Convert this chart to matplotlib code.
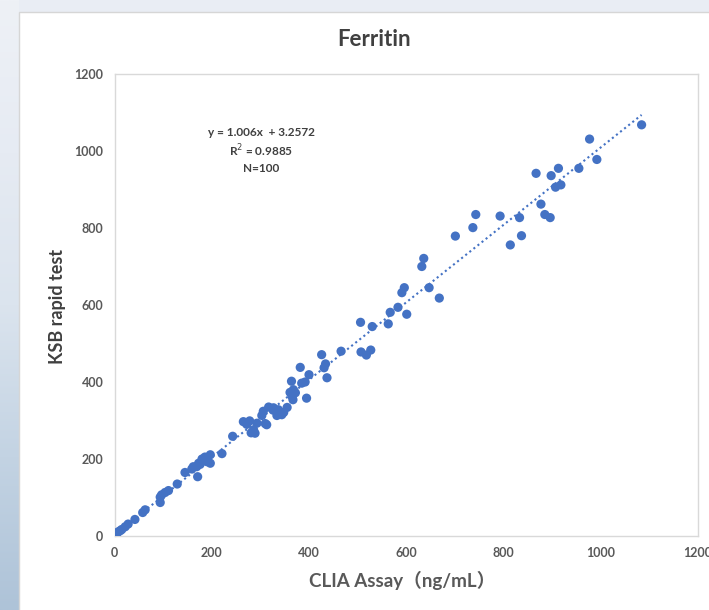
import numpy as np
import matplotlib
matplotlib.use("Agg")
import matplotlib.pyplot as plt
from matplotlib.patches import Rectangle

# ---- data ----
clia = [1, 3, 5, 8, 12, 15, 22, 28, 42, 58, 63, 94, 94, 97, 104, 111, 129, 145,
        159, 162, 169, 171, 173, 180, 186, 190, 197, 197, 221, 243,
        265, 278, 272, 286, 289, 281, 293, 310, 313,
        303, 306, 317, 327, 334, 337, 344, 348, 326,
        361, 364, 365, 367, 368, 372, 382, 385, 392, 395, 400,
        426, 431, 434, 437, 466,
        507, 518, 527, 506, 530, 563, 567, 583, 591, 596, 601,
        632, 636, 647, 668, 701, 737, 743,
        793, 814, 833, 837, 867, 877, 885, 896, 898, 907, 913, 918, 955, 977, 992, 1084,
        176, 355]
ksb = [3, 5, 8, 11, 14, 17, 24, 31, 43, 61, 68, 87, 101, 107, 113, 118, 135, 165,
       174, 180, 180, 154, 189, 200, 205, 193, 189, 211, 214, 259,
       297, 299, 290, 276, 267, 268, 293, 292, 289,
       313, 324, 335, 333, 313, 328, 315, 321, 327,
       373, 402, 363, 354, 380, 372, 438, 397, 400, 358, 419,
       471, 437, 447, 411, 480,
       478, 470, 483, 555, 544, 551, 581, 594, 632, 645, 576,
       700, 721, 645, 618, 779, 801, 835,
       831, 756, 827, 780, 942, 862, 835, 827, 936, 906, 955, 912, 955, 1031, 978, 1068,
       186, 334]

slope = 1.006
intercept = 3.2572
x_ticks = [0, 200, 400, 600, 800, 1000, 1200]
y_ticks = [0, 200, 400, 600, 800, 1000, 1200]

title = "Ferritin"
xlabel = "CLIA Assay（ng/mL）"
ylabel = "KSB rapid test"
eq_lines = ["y = 1.006x  + 3.2572", "R$^2$ = 0.9885", "N=100"]

blue = "#4472C4"
gray = "#595959"
fam = ["Lato", "Noto Sans CJK SC", "DejaVu Sans"]
plt.rcParams["font.family"] = fam

W, H = 709, 610
fig = plt.figure(figsize=(W / 100, H / 100), dpi=100)
fig.patch.set_facecolor("#e9edf4")

# left background strip (bluish photo-like gradient)
bg = fig.add_axes([0, 0, 19 / W, 1])
grad = np.linspace(0, 1, 256).reshape(-1, 1)
cmap = matplotlib.colors.LinearSegmentedColormap.from_list(
    "bg", ["#eef1f6", "#e6ebf3", "#dbe4ee", "#c3d3e3", "#aec3d8"])
bg.imshow(grad, aspect="auto", cmap=cmap, extent=[0, 1, 0, 1], origin="upper")
bg.axis("off")

# chart area
fig.patches.append(Rectangle((19 / W, -0.05), 1.0, (H - 12) / H + 0.05,
                             transform=fig.transFigure, facecolor="white",
                             edgecolor="#d6d6d6", linewidth=1.0, zorder=0))

ax = fig.add_axes([114.5 / W, (H - 536) / H, (698 - 114.5) / W, (536 - 74) / H])
ax.set_zorder(3)
ax.set_facecolor("white")
ax.set_xlim(0, 1200)
ax.set_ylim(0, 1200)
ax.set_xticks(x_ticks)
ax.set_yticks(y_ticks)
ax.tick_params(length=0, labelsize=9, labelcolor=gray, pad=8)
for lab in ax.get_xticklabels() + ax.get_yticklabels():
    lab.set_fontweight("bold")
for s in ax.spines.values():
    s.set_color("#d9d9d9")
    s.set_linewidth(1.0)

# trendline over data range
xs = np.array([min(clia), max(clia)])
ax.plot(xs, slope * xs + intercept, linestyle=(0, (1, 1.5)), color=blue,
        linewidth=1.5, zorder=2)
ax.scatter(clia, ksb, s=44, color=blue, edgecolors="none", zorder=3)

for i, t in enumerate(eq_lines):
    fig.text(261 / W, 1 - (133 + 18 * i) / H, t, ha="center", va="center",
             fontsize=8.5, fontweight="bold", color="#404040", zorder=5)

fig.text(374 / W, 1 - 40 / H, title, ha="center", va="center", fontsize=16,
         fontweight="bold", color="#404040", zorder=5)
fig.text(402 / W, 1 - 580 / H, xlabel, ha="center", va="center", fontsize=13.5,
         fontweight="bold", color=gray, zorder=5)
fig.text(57 / W, 1 - 306 / H, ylabel, ha="center", va="center", fontsize=13,
         fontweight="bold", color="#404040", rotation=90, zorder=5)

fig.savefig("out.png", dpi=100, facecolor=fig.get_facecolor())
